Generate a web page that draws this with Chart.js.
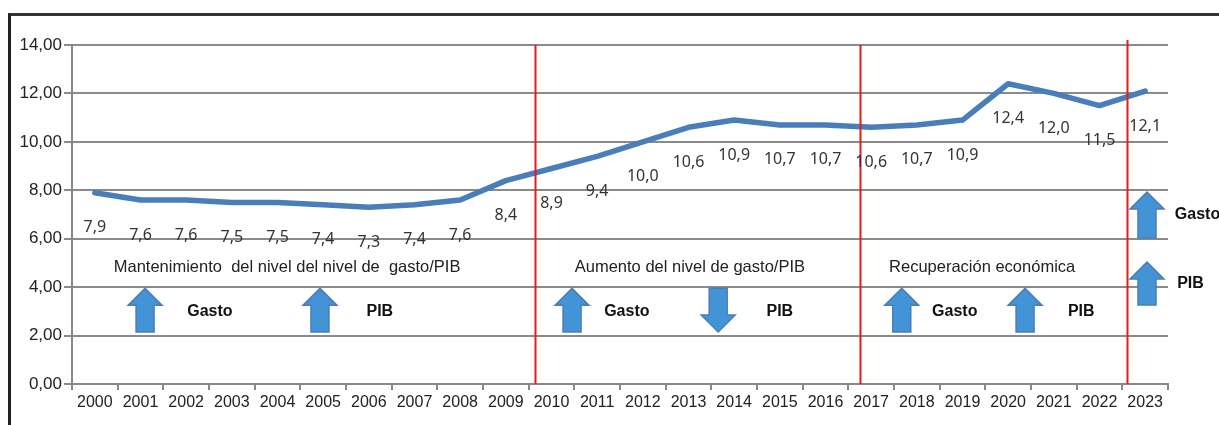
<!DOCTYPE html>
<html>
<head>
<meta charset="utf-8">
<script src="https://cdn.jsdelivr.net/npm/chart.js@4.4.1/dist/chart.umd.min.js"></script>
<style>
  html, body { margin: 0; padding: 0; background: #fff; }
  #wrap { position: relative; width: 1219px; height: 425px; overflow: hidden; }
  #frame { position: absolute; left: 8px; top: 13px; width: 1300px; height: 500px;
           border-top: 3px solid #333; border-left: 3px solid #222; }
  #wrap canvas { position: absolute; left: 0; top: 0; }
</style>
</head>
<body>
<div id="wrap">
  <div id="frame"></div>
  <canvas id="chart" width="1219" height="425"></canvas>
</div>
<script>
(function () {
  "use strict";

  // --- data ---
  var years = ["2000", "2001", "2002", "2003", "2004", "2005", "2006", "2007", "2008", "2009",
    "2010", "2011", "2012", "2013", "2014", "2015", "2016", "2017", "2018", "2019",
    "2020", "2021", "2022", "2023"];
  var gastoPib = [7.9, 7.6, 7.6, 7.5, 7.5, 7.4, 7.3, 7.4, 7.6, 8.4,
    8.9, 9.4, 10.0, 10.6, 10.9, 10.7, 10.7, 10.6, 10.7, 10.9,
    12.4, 12.0, 11.5, 12.1];
  var yTicks = [0, 2, 4, 6, 8, 10, 12, 14];

  // period separators (category position) and period captions
  var separators = [9.64, 16.75, 22.6];
  var periodNames = ["Mantenimiento  del nivel del nivel de  gasto/PIB", "Aumento del nivel de gasto/PIB", "Recuperación económica"];
  var periodAt = [4.21, 13.03, 19.43];

  // arrows: category position, direction
  var arrowAt = [1.1, 4.93, 10.45, 13.65, 17.67, 20.37];
  var arrowDir = ["up", "up", "up", "down", "up", "up"];
  var arrowWord = ["Gasto", "PIB", "Gasto", "PIB", "Gasto", "PIB"];
  var wordAt = [2.52, 6.24, 11.65, 15.0, 18.83, 21.6];

  var FONT = "'Liberation Sans', Arial, sans-serif";

  function fmt(v) {
    return v.toFixed(1).replace(".", ",");
  }

  function arrow(ctx, cx, yTop, yBot, dir) {
    var hw = 17, sw = 9, hl = 17;
    ctx.beginPath();
    if (dir === "up") {
      ctx.moveTo(cx, yTop);
      ctx.lineTo(cx + hw, yTop + hl);
      ctx.lineTo(cx + sw, yTop + hl);
      ctx.lineTo(cx + sw, yBot);
      ctx.lineTo(cx - sw, yBot);
      ctx.lineTo(cx - sw, yTop + hl);
      ctx.lineTo(cx - hw, yTop + hl);
    } else {
      ctx.moveTo(cx, yBot);
      ctx.lineTo(cx + hw, yBot - hl);
      ctx.lineTo(cx + sw, yBot - hl);
      ctx.lineTo(cx + sw, yTop);
      ctx.lineTo(cx - sw, yTop);
      ctx.lineTo(cx - sw, yBot - hl);
      ctx.lineTo(cx - hw, yBot - hl);
    }
    ctx.closePath();
    ctx.fillStyle = "#4394d6";
    ctx.fill();
    ctx.lineWidth = 1.5;
    ctx.strokeStyle = "#4a7ebb";
    ctx.stroke();
  }

  var decorations = {
    id: "decorations",
    afterDatasetsDraw: function (chart) {
      var ctx = chart.ctx;
      var x = chart.scales.x;
      var y = chart.scales.y;
      ctx.save();

      // red period separators
      ctx.strokeStyle = "#e31b1b";
      ctx.lineWidth = 2;
      separators.forEach(function (s, i) {
        var px = Math.round(x.getPixelForValue(s)) + 0.5;
        ctx.beginPath();
        ctx.moveTo(px, i === 2 ? y.top - 5 : y.top);
        ctx.lineTo(px, y.bottom);
        ctx.stroke();
      });

      // data labels under the line
      ctx.fillStyle = "#333";
      ctx.font = "16px 'Noto Sans', 'Open Sans', sans-serif";
      ctx.textAlign = "center";
      ctx.textBaseline = "middle";
      gastoPib.forEach(function (v, i) {
        ctx.fillText(fmt(v), x.getPixelForValue(i), y.getPixelForValue(v) + 35);
      });

      // period captions
      ctx.fillStyle = "#222";
      ctx.font = "16.5px " + FONT;
      periodNames.forEach(function (t, i) {
        ctx.fillText(t, x.getPixelForValue(periodAt[i]), y.getPixelForValue(4.8));
      });

      // arrows with their words
      arrowAt.forEach(function (a, i) {
        arrow(ctx, x.getPixelForValue(a), y.getPixelForValue(3.95), y.getPixelForValue(2.15), arrowDir[i]);
      });
      ctx.fillStyle = "#111";
      ctx.font = "bold 16px " + FONT;
      arrowWord.forEach(function (t, i) {
        ctx.fillText(t, x.getPixelForValue(wordAt[i]), y.getPixelForValue(3.0));
      });

      // outlook 2023
      arrow(ctx, x.getPixelForValue(23.04), y.getPixelForValue(7.93), y.getPixelForValue(6.03), "up");
      arrow(ctx, x.getPixelForValue(23.04), y.getPixelForValue(5.04), y.getPixelForValue(3.26), "up");
      ctx.fillStyle = "#111";
      ctx.textAlign = "left";
      ctx.fillText("Gasto", x.getPixelForValue(23.65), y.getPixelForValue(7.0));
      ctx.fillText("PIB", x.getPixelForValue(23.7), y.getPixelForValue(4.15));

      ctx.restore();
    }
  };

  new Chart(document.getElementById("chart"), {
    type: "line",
    data: {
      labels: years,
      datasets: [{
        data: gastoPib,
        borderColor: "#4a7ebb",
        borderWidth: 5.5,
        pointRadius: 0,
        tension: 0,
        borderJoinStyle: "round",
        borderCapStyle: "round",
        fill: false
      }]
    },
    options: {
      responsive: false,
      animation: false,
      events: [],
      layout: { padding: { top: 45, left: 8, right: 51, bottom: 0 } },
      plugins: { legend: { display: false }, tooltip: { enabled: false } },
      scales: {
        x: {
          offset: true,
          grid: { offset: true, drawOnChartArea: false, drawTicks: true, tickLength: 6, color: "#888", lineWidth: 2 },
          border: { color: "#888", width: 2 },
          ticks: { color: "#222", font: { family: FONT, size: 16 }, padding: 3, maxRotation: 0, autoSkip: false },
          afterFit: function (s) { s.height = 41; }
        },
        y: {
          min: 0,
          max: 14,
          afterBuildTicks: function (s) {
            s.ticks = yTicks.map(function (v) { return { value: v }; });
          },
          grid: { color: "#8a8a8a", lineWidth: 2, drawTicks: true, tickLength: 8 },
          border: { color: "#888", width: 2 },
          ticks: {
            color: "#222",
            font: { family: FONT, size: 17 },
            padding: 2,
            callback: function (v) { return v.toFixed(2).replace(".", ","); }
          },
          afterFit: function (s) { s.width = 64; }
        }
      }
    },
    plugins: [decorations]
  });
})();
</script>
</body>
</html>
